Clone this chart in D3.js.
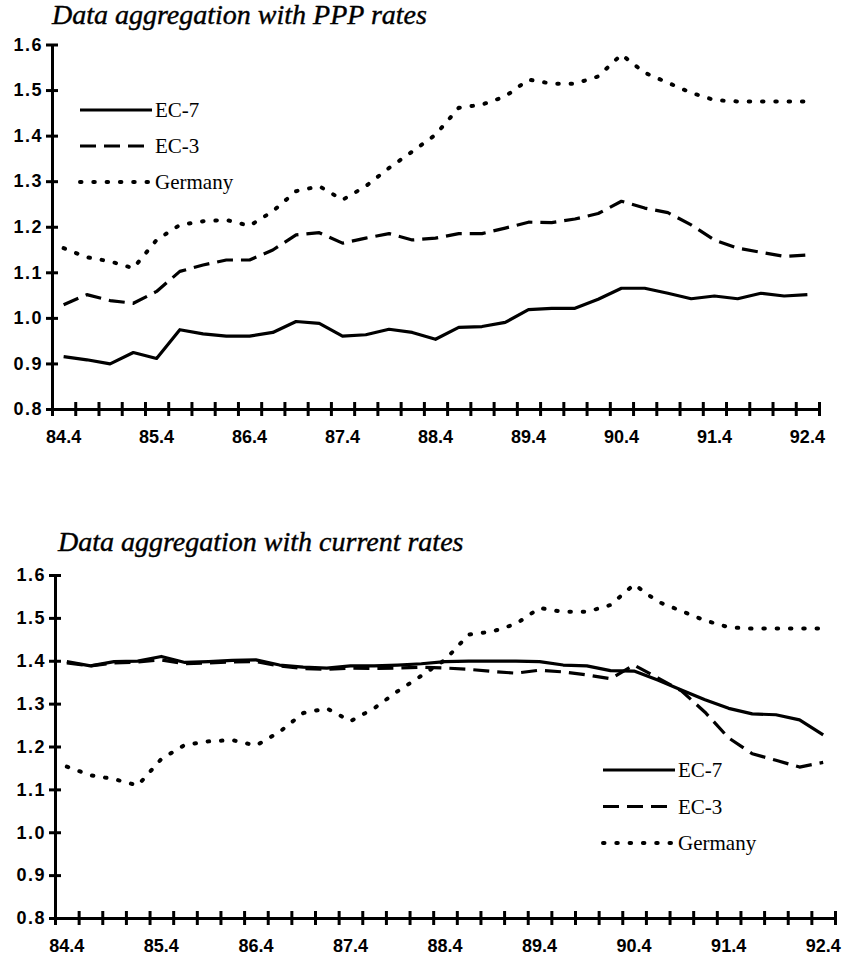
<!DOCTYPE html>
<html>
<head>
<meta charset="utf-8">
<script src="https://cdn.jsdelivr.net/npm/d3@7"></script>
<style>
  body { margin: 0; background: #fff; }
  .tick text { font-family: "Liberation Sans", Arial, sans-serif; font-weight: bold; font-size: 18px; fill: #000; }
  .title { font-family: "Liberation Serif", "Times New Roman", serif; font-style: italic; font-size: 28px; fill: #000; stroke: #000; stroke-width: 0.4; }
  .leg { font-family: "Liberation Serif", "Times New Roman", serif; font-size: 21px; fill: #000; }
</style>
</head>
<body>
<div id="chart"></div>
<script>

// quarters 84.4 .. 92.4
const quarters = ["84.4","85.1","85.2","85.3","85.4","86.1","86.2","86.3","86.4",
  "87.1","87.2","87.3","87.4","88.1","88.2","88.3","88.4","89.1","89.2","89.3","89.4",
  "90.1","90.2","90.3","90.4","91.1","91.2","91.3","91.4","92.1","92.2","92.3","92.4"];
const labelQuarters = ["84.4","85.4","86.4","87.4","88.4","89.4","90.4","91.4","92.4"];
const yTicks = [0.8, 0.9, 1.0, 1.1, 1.2, 1.3, 1.4, 1.5, 1.6];

// PPP rates
const ec7Ppp = [0.915,0.908,0.899,0.924,0.911,0.974,0.965,0.960,0.960,0.968,0.992,0.988,
  0.960,0.963,0.975,0.968,0.953,0.979,0.981,0.990,1.018,1.021,1.021,1.041,1.065,1.065,
  1.054,1.042,1.048,1.042,1.054,1.048,1.051];
const ec3Ppp = [1.029,1.051,1.038,1.032,1.058,1.102,1.116,1.127,1.127,1.149,1.182,1.187,
  1.164,1.175,1.185,1.171,1.175,1.185,1.185,1.197,1.210,1.209,1.217,1.229,1.256,1.241,
  1.231,1.204,1.171,1.153,1.144,1.135,1.138];

// current rates
const ec7Cur = [1.398,1.388,1.398,1.399,1.410,1.396,1.398,1.401,1.402,1.390,1.385,1.383,
  1.388,1.388,1.390,1.393,1.398,1.399,1.399,1.399,1.398,1.390,1.388,1.377,1.376,1.355,
  1.332,1.309,1.289,1.276,1.274,1.262,1.227];
const ec3Cur = [1.395,1.388,1.395,1.397,1.402,1.393,1.395,1.397,1.398,1.388,1.382,1.380,
  1.383,1.382,1.383,1.385,1.383,1.380,1.375,1.371,1.378,1.374,1.367,1.358,1.390,1.360,
  1.330,1.280,1.220,1.183,1.168,1.152,1.163];

// Germany is the same in both panels
const germany = [1.153,1.133,1.124,1.109,1.171,1.204,1.212,1.215,1.202,1.234,1.278,1.289,
  1.259,1.289,1.329,1.365,1.402,1.461,1.468,1.486,1.523,1.514,1.514,1.530,1.578,1.538,
  1.516,1.494,1.478,1.475,1.475,1.475,1.475];

const seriesNames = ["EC-7", "EC-3", "Germany"];
const dashes = [null, "16,8", "1.5,11.8"];

const width = 846;
const height = 959;

const svg = d3.select("#chart")
  .append("svg")
  .attr("width", width)
  .attr("height", height);

function drawPanel(p) {
  const g = svg.append("g");

  const x = d3.scaleBand()
    .domain(quarters)
    .range([p.left, p.right]);

  const xEdge = d3.scaleLinear()
    .domain([0, quarters.length])
    .range([p.left, p.right]);

  const y = d3.scaleLinear()
    .domain([0.8, 1.6])
    .range([p.bottom, p.top]);

  /* x axis: tick marks between quarters, labels under every 4th quarter */
  const xAxis = g.append("g")
    .attr("transform", `translate(0,${p.bottom})`)
    .call(d3.axisBottom(xEdge).tickValues(d3.range(quarters.length + 1)).tickFormat("").tickSizeOuter(0));
  xAxis.select(".domain").attr("stroke", "#000").attr("stroke-width", 3);
  xAxis.selectAll(".tick line").attr("y1", -7).attr("y2", 7).attr("stroke", "#000").attr("stroke-width", 3);

  const xLab = g.append("g")
    .attr("transform", `translate(0,${p.bottom})`)
    .call(d3.axisBottom(x).tickValues(labelQuarters).tickSize(0));
  xLab.select(".domain").remove();
  xLab.selectAll(".tick text").attr("y", 0).attr("dy", 34);

  /* y axis */
  const yAxis = g.append("g")
    .attr("transform", `translate(${p.left},0)`)
    .call(d3.axisLeft(y).tickValues(yTicks).tickFormat(d3.format(".1f")).tickSizeOuter(0));
  yAxis.select(".domain").attr("stroke", "#000").attr("stroke-width", 3);
  yAxis.selectAll(".tick line").attr("x1", -6).attr("x2", 6).attr("stroke", "#000").attr("stroke-width", 3);
  yAxis.selectAll(".tick text").attr("x", -9).attr("letter-spacing", "1.5px");

  /* title */
  g.append("text")
    .attr("class", "title")
    .attr("x", p.titleX)
    .attr("y", p.titleY)
    .text(p.title);

  /* lines */
  const line = d3.line()
    .x((d, i) => x(quarters[i]) + x.bandwidth() / 2)
    .y(d => y(d));

  p.series.forEach(function(s, k) {
    g.append("path")
      .datum(s)
      .attr("fill", "none")
      .attr("stroke", "#000")
      .attr("stroke-width", k == 2 ? 4 : 3.2)
      .attr("stroke-linecap", k == 2 ? "round" : "butt")
      .attr("stroke-linejoin", "round")
      .attr("stroke-dasharray", dashes[k])
      .attr("d", line);
  });

  /* legend */
  seriesNames.forEach(function(name, k) {
    const ly = p.legY + k * p.legStep;
    g.append("line")
      .attr("x1", p.legX)
      .attr("x2", p.legX + 72)
      .attr("y1", ly)
      .attr("y2", ly)
      .attr("stroke", "#000")
      .attr("stroke-width", k == 2 ? 4 : 3)
      .attr("stroke-linecap", k == 2 ? "round" : "butt")
      .attr("stroke-dasharray", dashes[k]);
    g.append("text")
      .attr("class", "leg")
      .attr("x", p.legX + 75)
      .attr("y", ly + 7)
      .text(name);
  });
}

drawPanel({
  left: 52, right: 819, top: 44.5, bottom: 409,
  title: "Data aggregation with PPP rates", titleX: 52, titleY: 24,
  series: [ec7Ppp, ec3Ppp, germany],
  legX: 80, legY: 110, legStep: 36
});

drawPanel({
  left: 55, right: 835, top: 575, bottom: 918,
  title: "Data aggregation with current rates", titleX: 58, titleY: 551,
  series: [ec7Cur, ec3Cur, germany],
  legX: 603, legY: 770, legStep: 36.5
});

</script>
</body>
</html>
